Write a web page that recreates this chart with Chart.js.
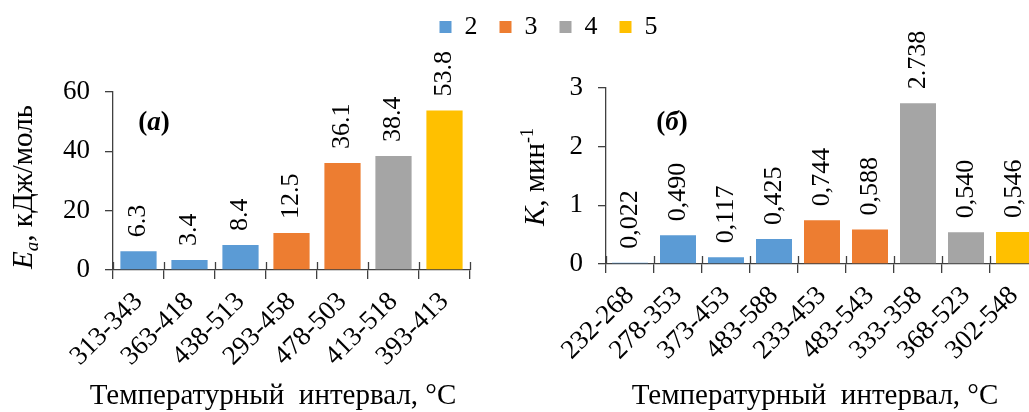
<!DOCTYPE html>
<html>
<head>
<meta charset="utf-8">
<script src="https://cdn.jsdelivr.net/npm/chart.js@4.4.1/dist/chart.umd.min.js"></script>
<style>
  html, body { margin:0; padding:0; background:#fff; overflow:hidden; width:1029px; height:412px; }
  canvas { position:absolute; }
</style>
</head>
<body>
<canvas id="eaChart" width="520" height="412" style="left:0;top:0"></canvas>
<canvas id="kChart" width="540" height="412" style="left:520px;top:0"></canvas>
<canvas id="legendChart" width="1029" height="140" style="left:0;top:-8px"></canvas>
<script>
var FONT = "'Liberation Serif', 'Times New Roman', serif";

var seriesNames = ['2', '3', '4', '5'];
var seriesColors = ['#5B9BD5', '#ED7D31', '#A5A5A5', '#FFC000'];

// (a) activation energy
var eaCategories = ['313-343', '363-418', '438-513', '293-458', '478-503', '413-518', '393-413'];
var eaValues = [6.3, 3.4, 8.4, 12.5, 36.1, 38.4, 53.8];
var eaSeries = ['2', '2', '2', '3', '3', '4', '5'];
var eaTicks = [0, 20, 40, 60];

// (б) rate constant
var kCategories = ['232-268', '278-353', '373-453', '483-588', '233-453', '483-543', '333-358', '368-523', '302-548'];
var kValues = [0.022, 0.490, 0.117, 0.425, 0.744, 0.588, 2.738, 0.540, 0.546];
var kText = ['0,022', '0,490', '0,117', '0,425', '0,744', '0,588', '2.738', '0,540', '0,546'];
var kSeries = ['2', '2', '2', '2', '3', '3', '4', '4', '5'];
var kTicks = [0, 1, 2, 3];

var axisColor = '#404040';

var buildDatasets = function(values, series, barPct){
	return seriesNames.map(function(name, s){
		return {
			label: name,
			data: values.map(function(v, i){ return series[i] === name ? v : null; }),
			backgroundColor: seriesColors[s],
			borderWidth: 0,
			barPercentage: barPct,
			categoryPercentage: 1,
			skipNull: true
		};
	});
};

var drawRich = function(ctx, parts, x, y, angle){
	ctx.save();
	ctx.translate(x, y);
	ctx.rotate(angle);
	var total = 0;
	parts.forEach(function(p){ ctx.font = p.font; p.w = ctx.measureText(p.text).width; total += p.w; });
	var cx = -total / 2;
	ctx.textAlign = 'left';
	ctx.textBaseline = 'alphabetic';
	ctx.fillStyle = '#000';
	parts.forEach(function(p){ ctx.font = p.font; ctx.fillText(p.text, cx, p.dy || 0); cx += p.w; });
	ctx.restore();
};

// data labels, upper halves of x ticks, titles
var makeAnnotPlugin = function(cfg){
	return {
		id: 'annot',
		afterDraw: function(chart){
			var ctx = chart.ctx;
			var xs = chart.scales.x;
			var area = chart.chartArea;

			ctx.save();
			ctx.strokeStyle = axisColor;
			ctx.lineWidth = 1.3;
			var step = xs.getPixelForValue(1) - xs.getPixelForValue(0);
			for (var i = 0; i <= cfg.count; i++) {
				var px = Math.round(xs.getPixelForValue(0) + (i - 0.5) * step) + 0.5;
				ctx.beginPath();
				ctx.moveTo(px, area.bottom - 8);
				ctx.lineTo(px, area.bottom);
				ctx.stroke();
			}
			ctx.restore();

			chart.data.datasets.forEach(function(ds, d){
				var meta = chart.getDatasetMeta(d);
				ds.data.forEach(function(v, j){
					if (v === null) return;
					var bar = meta.data[j];
					ctx.save();
					ctx.translate(bar.x, bar.y - 14);
					ctx.rotate(-Math.PI / 2);
					ctx.textAlign = 'left';
					ctx.textBaseline = 'middle';
					ctx.font = '26px ' + FONT;
					ctx.fillStyle = '#000';
					ctx.fillText(cfg.text(j), 0, 0);
					ctx.restore();
				});
			});

			drawRich(ctx, cfg.yTitle, cfg.yTitleX, cfg.yTitleY, -Math.PI / 2);
			drawRich(ctx, [{ text: 'Температурный  интервал, °C', font: '29px ' + FONT }], cfg.xTitleX, 404, 0);
			drawRich(ctx, cfg.tag, cfg.tagX, 130, 0);
		}
	};
};

var makeOptions = function(ticks, max, yWidth, xHeight, pad){
	return {
		responsive: false,
		animation: false,
		events: [],
		layout: { padding: pad },
		plugins: { legend: { display: false }, tooltip: { enabled: false } },
		scales: {
			x: {
				afterFit: function(scale){ scale.height = xHeight; },
				grid: { display: true, drawOnChartArea: false, offset: true, tickLength: 9, color: axisColor, lineWidth: 1.3 },
				border: { display: true, color: axisColor, width: 1.3 },
				ticks: { autoSkip: false, maxRotation: 45, minRotation: 45, padding: 7, color: '#000', font: { family: FONT, size: 27 } }
			},
			y: {
				min: 0,
				max: max,
				afterFit: function(scale){ scale.width = yWidth; },
				afterBuildTicks: function(scale){ scale.ticks = ticks.map(function(v){ return { value: v }; }); },
				grid: { display: true, drawOnChartArea: false, tickLength: 8, color: axisColor, lineWidth: 1.3 },
				border: { display: true, color: axisColor, width: 1.3 },
				ticks: { padding: 15, color: '#000', font: { family: FONT, size: 27 } }
			}
		}
	};
};

new Chart(document.getElementById('eaChart').getContext('2d'), {
	type: 'bar',
	data: { labels: eaCategories, datasets: buildDatasets(eaValues, eaSeries, 0.71) },
	options: makeOptions(eaTicks, 60, 113, 142, { top: 92, right: 50, left: 0, bottom: 0 }),
	plugins: [makeAnnotPlugin({
		count: eaCategories.length,
		text: function(j){ return eaValues[j].toFixed(1); },
		yTitle: [
			{ text: 'E', font: 'italic 29px ' + FONT },
			{ text: 'a', font: 'italic 19px ' + FONT, dy: 6 },
			{ text: ', кДж/моль', font: '29px ' + FONT }
		],
		yTitleX: 32, yTitleY: 187,
		xTitleX: 273,
		tag: [
			{ text: '(', font: 'bold 27px ' + FONT },
			{ text: 'a', font: 'bold italic 27px ' + FONT },
			{ text: ')', font: 'bold 27px ' + FONT }
		],
		tagX: 154
	})]
});

new Chart(document.getElementById('kChart').getContext('2d'), {
	type: 'bar',
	data: { labels: kCategories, datasets: buildDatasets(kValues, kSeries, 0.75) },
	options: makeOptions(kTicks, 3, 86, 148, { top: 88, right: 22, left: 0, bottom: 0 }),
	plugins: [makeAnnotPlugin({
		count: kCategories.length,
		text: function(j){ return kText[j]; },
		yTitle: [
			{ text: 'K', font: 'italic 29px ' + FONT },
			{ text: ', мин', font: '29px ' + FONT },
			{ text: '-1', font: '18px ' + FONT, dy: -11 }
		],
		yTitleX: 24, yTitleY: 177,
		xTitleX: 295,
		tag: [
			{ text: '(', font: 'bold 27px ' + FONT },
			{ text: 'б', font: 'bold italic 27px ' + FONT },
			{ text: ')', font: 'bold 27px ' + FONT }
		],
		tagX: 152
	})]
});

// shared legend
new Chart(document.getElementById('legendChart').getContext('2d'), {
	type: 'bar',
	data: {
		labels: [],
		datasets: seriesNames.map(function(name, s){
			return { label: name, data: [], backgroundColor: seriesColors[s], borderWidth: 0 };
		})
	},
	options: {
		responsive: false,
		animation: false,
		events: [],
		layout: { padding: { left: 68 } },
		scales: { x: { display: false }, y: { display: false } },
		plugins: {
			tooltip: { enabled: false },
			legend: {
				display: true,
				position: 'top',
				maxHeight: 120,
				labels: { color: '#000', boxWidth: 12, boxHeight: 12, padding: 22, font: { family: FONT, size: 26 } }
			}
		}
	}
});
</script>
</body>
</html>
